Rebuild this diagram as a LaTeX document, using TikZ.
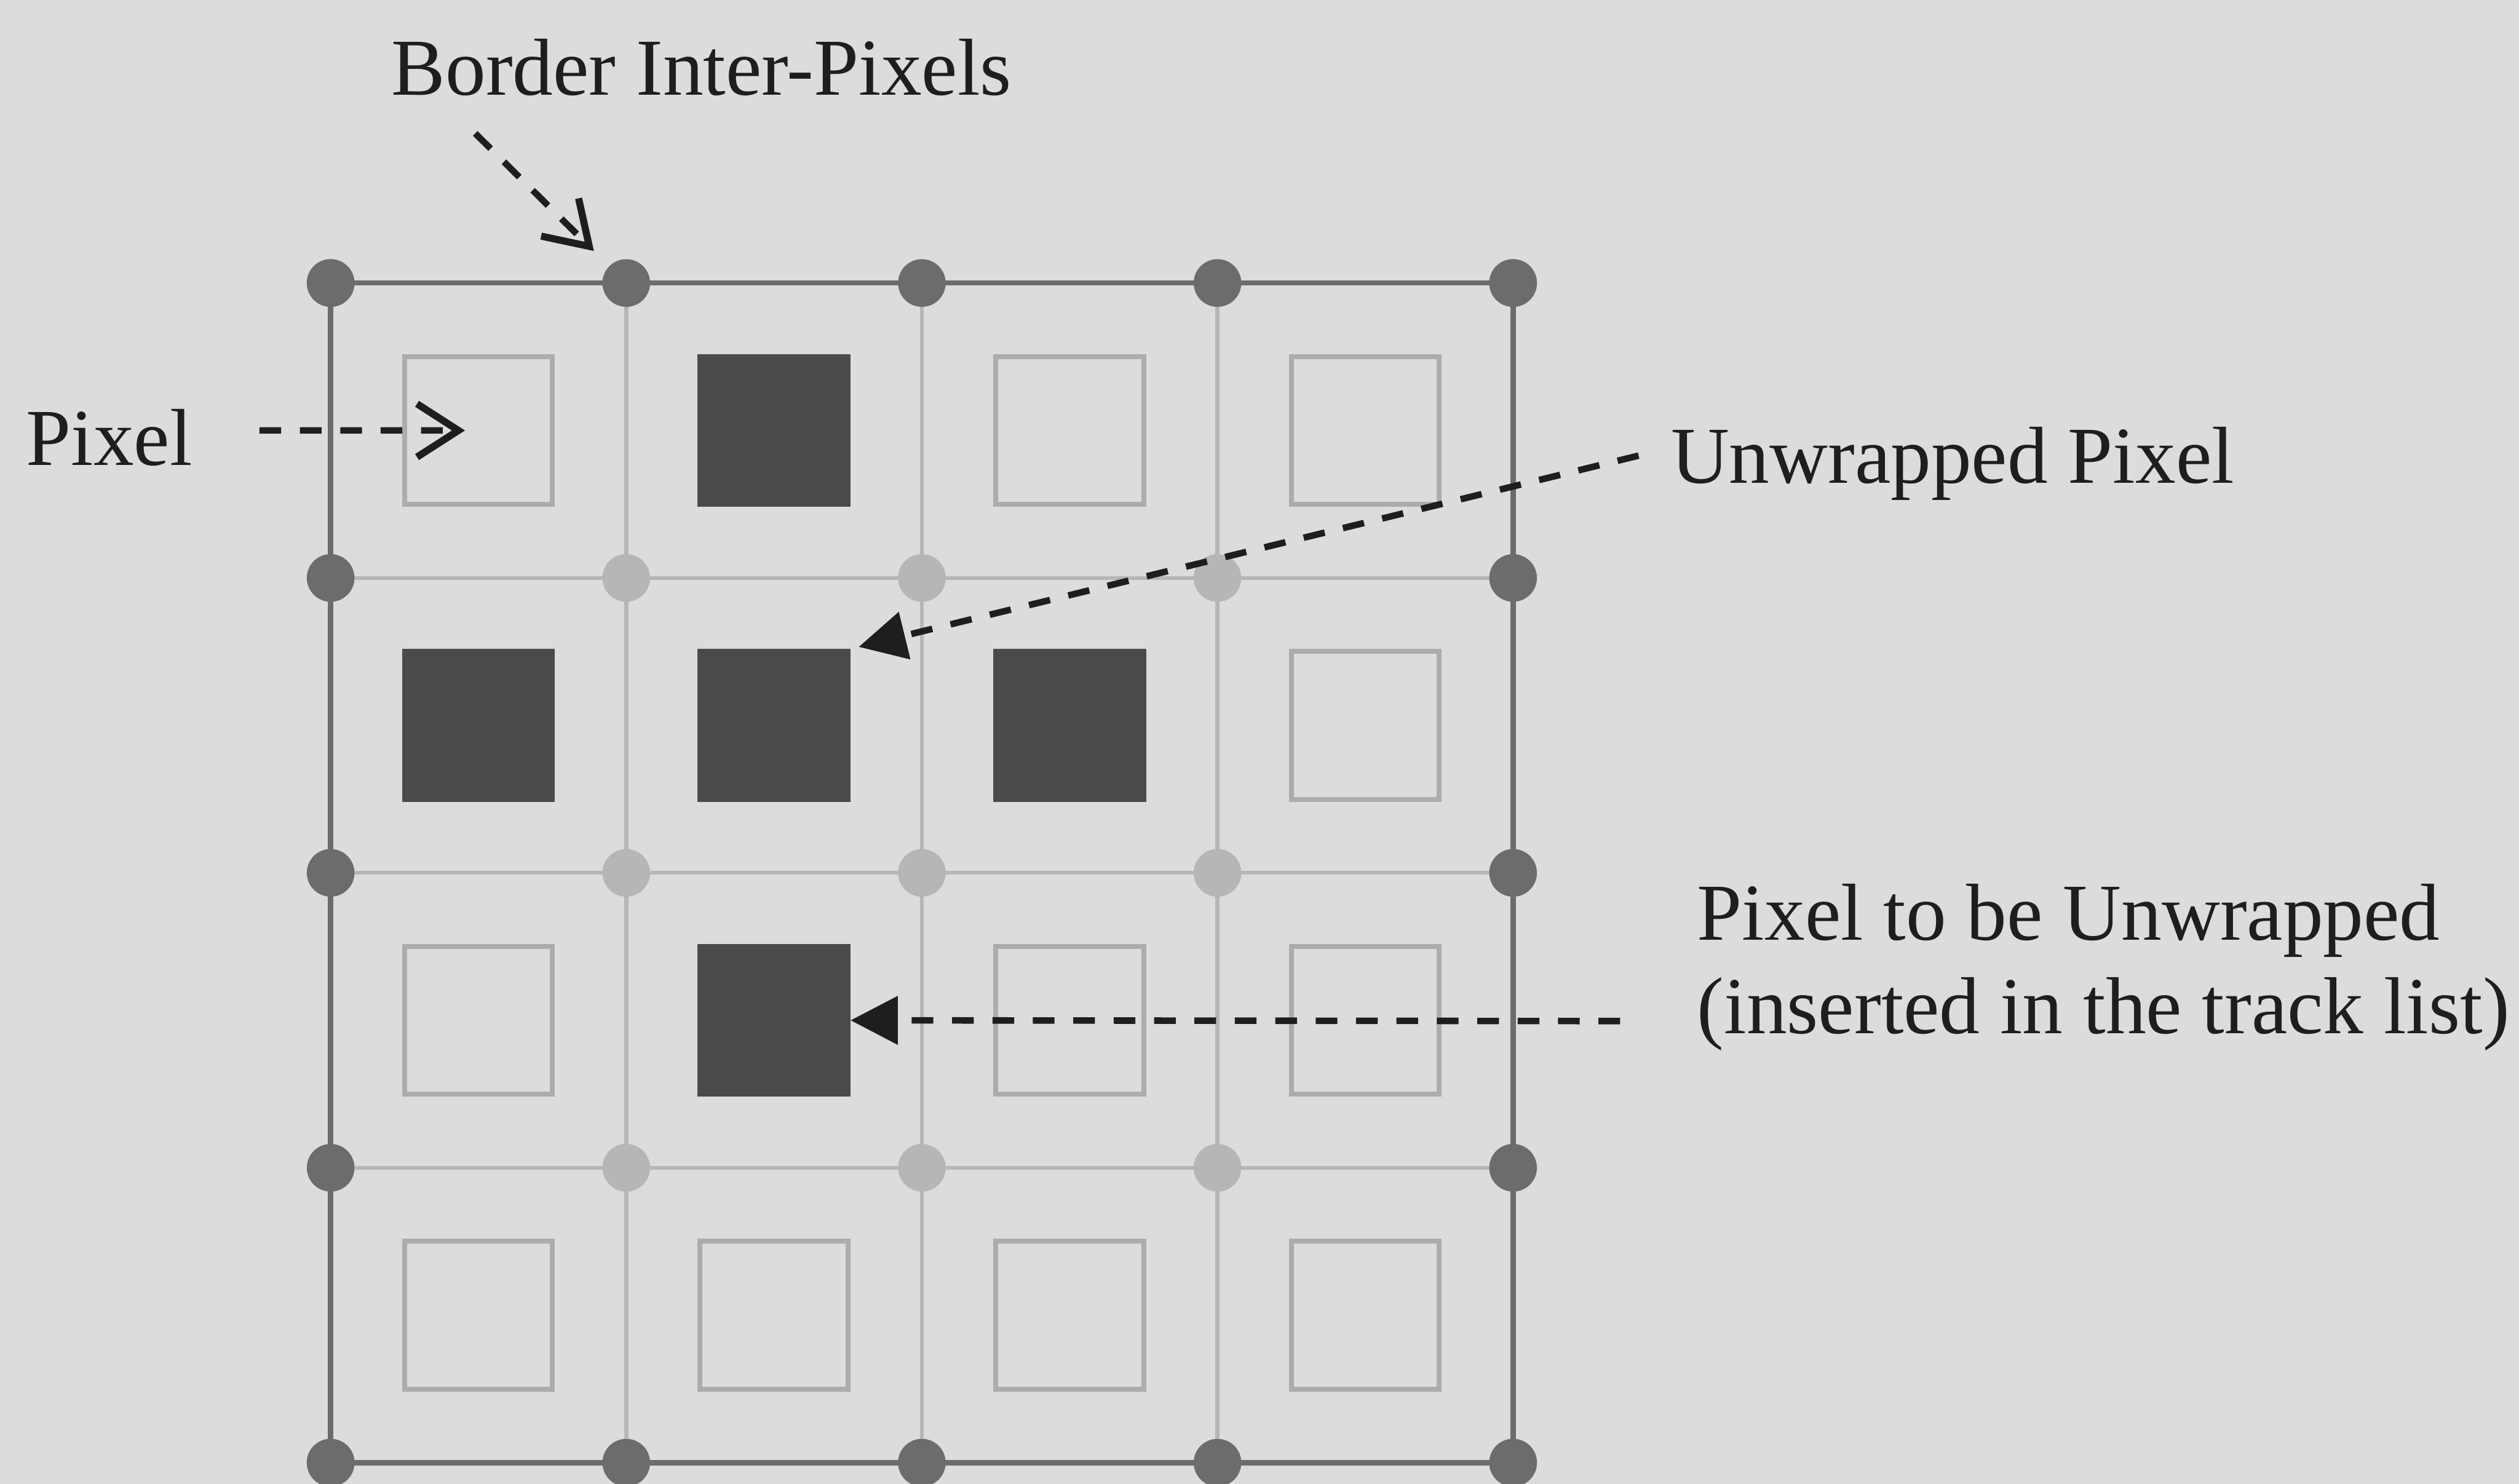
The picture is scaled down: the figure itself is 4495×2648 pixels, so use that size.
\documentclass[tikz,border=0pt]{standalone}
\usepackage{fontspec}
\setmainfont{Liberation Serif}
\usetikzlibrary{arrows.meta, positioning}

\definecolor{bgc}{RGB}{220,220,220}
\definecolor{txt}{RGB}{30,30,30}
\definecolor{darkg}{RGB}{108,108,108}
\definecolor{lightg}{RGB}{182,182,182}
\definecolor{pixg}{RGB}{172,172,172}
\definecolor{doneg}{RGB}{74,74,74}

\begin{document}
\begin{tikzpicture}[x=0.01cm, y=-0.01cm, font=\fontsize{41}{47.5}\selectfont, text=txt,
    frame/.style={draw=darkg, line width=2.6pt},
    inner/.style={draw=lightg, line width=2pt},
    bdot/.style={circle, fill=darkg, minimum size=0.85cm, inner sep=0pt},
    idot/.style={circle, fill=lightg, minimum size=0.85cm, inner sep=0pt},
    pixel/.style={rectangle, draw=pixg, line width=2.5pt, minimum size=2.64cm, inner sep=0pt},
    done/.style={pixel, draw=doneg, fill=doneg},
    lbl/.style={anchor=base west, inner sep=0pt},
    barb/.style={draw=txt, line width=3.3pt, dash pattern=on 11pt off 9.5pt,
        -{Straight Barb[length=21pt, width=27pt, line width=3.6pt]}},
    tri/.style={draw=txt, line width=3.3pt, dash pattern=on 11pt off 9.5pt,
        -{Triangle[length=24pt, width=24pt]}}]

    \path[use as bounding box, fill=bgc] (0,0) rectangle (4495,2648);

    % grid points
    \foreach \i in {0,...,4}
        \foreach \j in {0,...,4}
            \coordinate (g-\i-\j) at ({590+527.5*\j},{505+526.25*\i});

    \foreach \k in {1,2,3} {
        \draw[inner] (g-\k-0) -- (g-\k-4);
        \draw[inner] (g-0-\k) -- (g-4-\k);
    }
    \draw[frame] (g-0-0) rectangle (g-4-4);

    % inter-pixels
    \foreach \i in {1,2,3}
        \foreach \j in {1,2,3}
            \node[idot] (d-\i-\j) at (g-\i-\j) {};
    \foreach \k in {0,...,4} {
        \node[bdot] (d-0-\k) at (g-0-\k) {};
        \node[bdot] (d-4-\k) at (g-4-\k) {};
        \node[bdot] (d-\k-0) at (g-\k-0) {};
        \node[bdot] (d-\k-4) at (g-\k-4) {};
    }

    % pixels
    \foreach \i in {0,...,3}
        \foreach \j in {0,...,3}
            \node[pixel] (p-\i-\j) at ({590+527.5*(\j+0.5)},{505+526.25*(\i+0.5)}) {};
    \foreach \i/\j in {0/1, 1/0, 1/1, 1/2, 2/1}
        \node[done] (p-\i-\j) at ({590+527.5*(\j+0.5)},{505+526.25*(\i+0.5)}) {};

    % labels
    \node[lbl] (bip) at (698,170) {Border Inter-Pixels};
    \node[lbl] (pxl) at (46,830) {Pixel};
    \node[lbl] (unw) at (2981,862) {Unwrapped Pixel};
    \node[lbl, align=left] (tbu) at (3028,1844) {Pixel to be Unwrapped\\(inserted in the track list)};

    \coordinate (bip-t) at (848,238);
    \coordinate (pxl-t) at (463,768);
    \coordinate (unw-t) at (2924,813);
    \coordinate (tbu-t) at (2891,1822);

    \draw[barb, shorten >=0.38cm] (bip-t) -- (d-0-1);
    \draw[barb, shorten >=0.24cm] (pxl-t) -- (p-0-0.center);
    \draw[tri, shorten >=0.15cm] (unw-t) -- (p-1-1.north east);
    \draw[tri] (tbu-t) -- (p-2-1.east);
\end{tikzpicture}
\end{document}
